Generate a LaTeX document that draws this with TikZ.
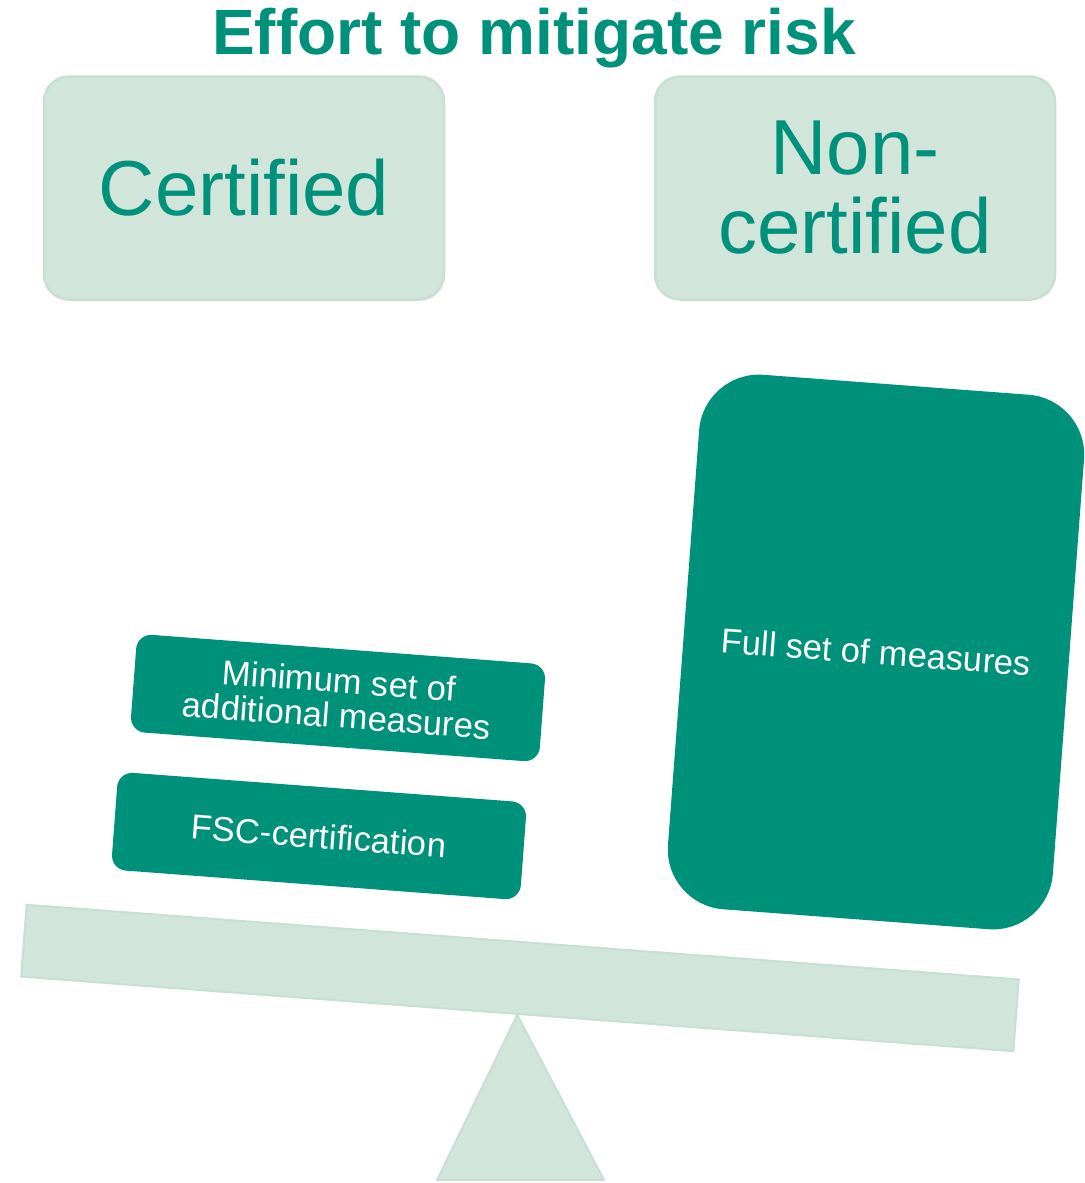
\documentclass[tikz,border=0pt]{standalone}
\usepackage{fontspec}
\setmainfont{Liberation Sans}
\usetikzlibrary{positioning}

\definecolor{fscgreen}{RGB}{0,145,123}
\definecolor{palegreen}{RGB}{209,229,218}
\definecolor{paleedge}{RGB}{199,224,210}

\begin{document}
\begin{tikzpicture}[x=1pt, y=-1pt,
    groupbox/.style={draw=paleedge, line width=2.5pt, fill=palegreen,
        rounded corners=25pt, minimum width=400pt, minimum height=223pt,
        inner sep=0pt, align=center, text=fscgreen,
        font=\fontsize{78}{79}\selectfont},
    weight/.style={fill=fscgreen, text=white, rotate=-4.3, inner sep=0pt,
        align=center, rounded corners=15pt, minimum width=410pt,
        minimum height=98pt, font=\fontsize{34.5}{35}\selectfont},
    pale/.style={draw=paleedge, line width=2pt, fill=palegreen}]
    \useasboundingbox (0,0) rectangle (1084,1183);

    % Titel
    \node[text=fscgreen, font=\bfseries\fontsize{64}{64}\selectfont] (title) at (534,38) {Effort to mitigate risk};

    % Kopfkaesten
    \node[groupbox] (cert) at (244,188) {Certified};
    \node[groupbox] (noncert) at (855,188) {Non-\\certified};

    % Waage: Balken und Dreieck
    \node[pale, rotate=-4.3, minimum width=995pt, minimum height=72pt, inner sep=0pt] (beam) at (520,978) {};
    \coordinate (footL) at (437,1180);
    \coordinate (footR) at (604,1180);
    \draw[pale, line join=round] (beam.south) -- (footR) -- (footL) -- cycle;

    % Gewichte
    \node[weight] (fsc) at (319,836) {FSC-certification};
    \node[weight] (minimum) at (338,698) {Minimum set of\\additional measures};
    \node[weight, rounded corners=60pt, minimum width=386pt, minimum height=536pt] (full) at (876,652) {Full set of measures};
\end{tikzpicture}
\end{document}
